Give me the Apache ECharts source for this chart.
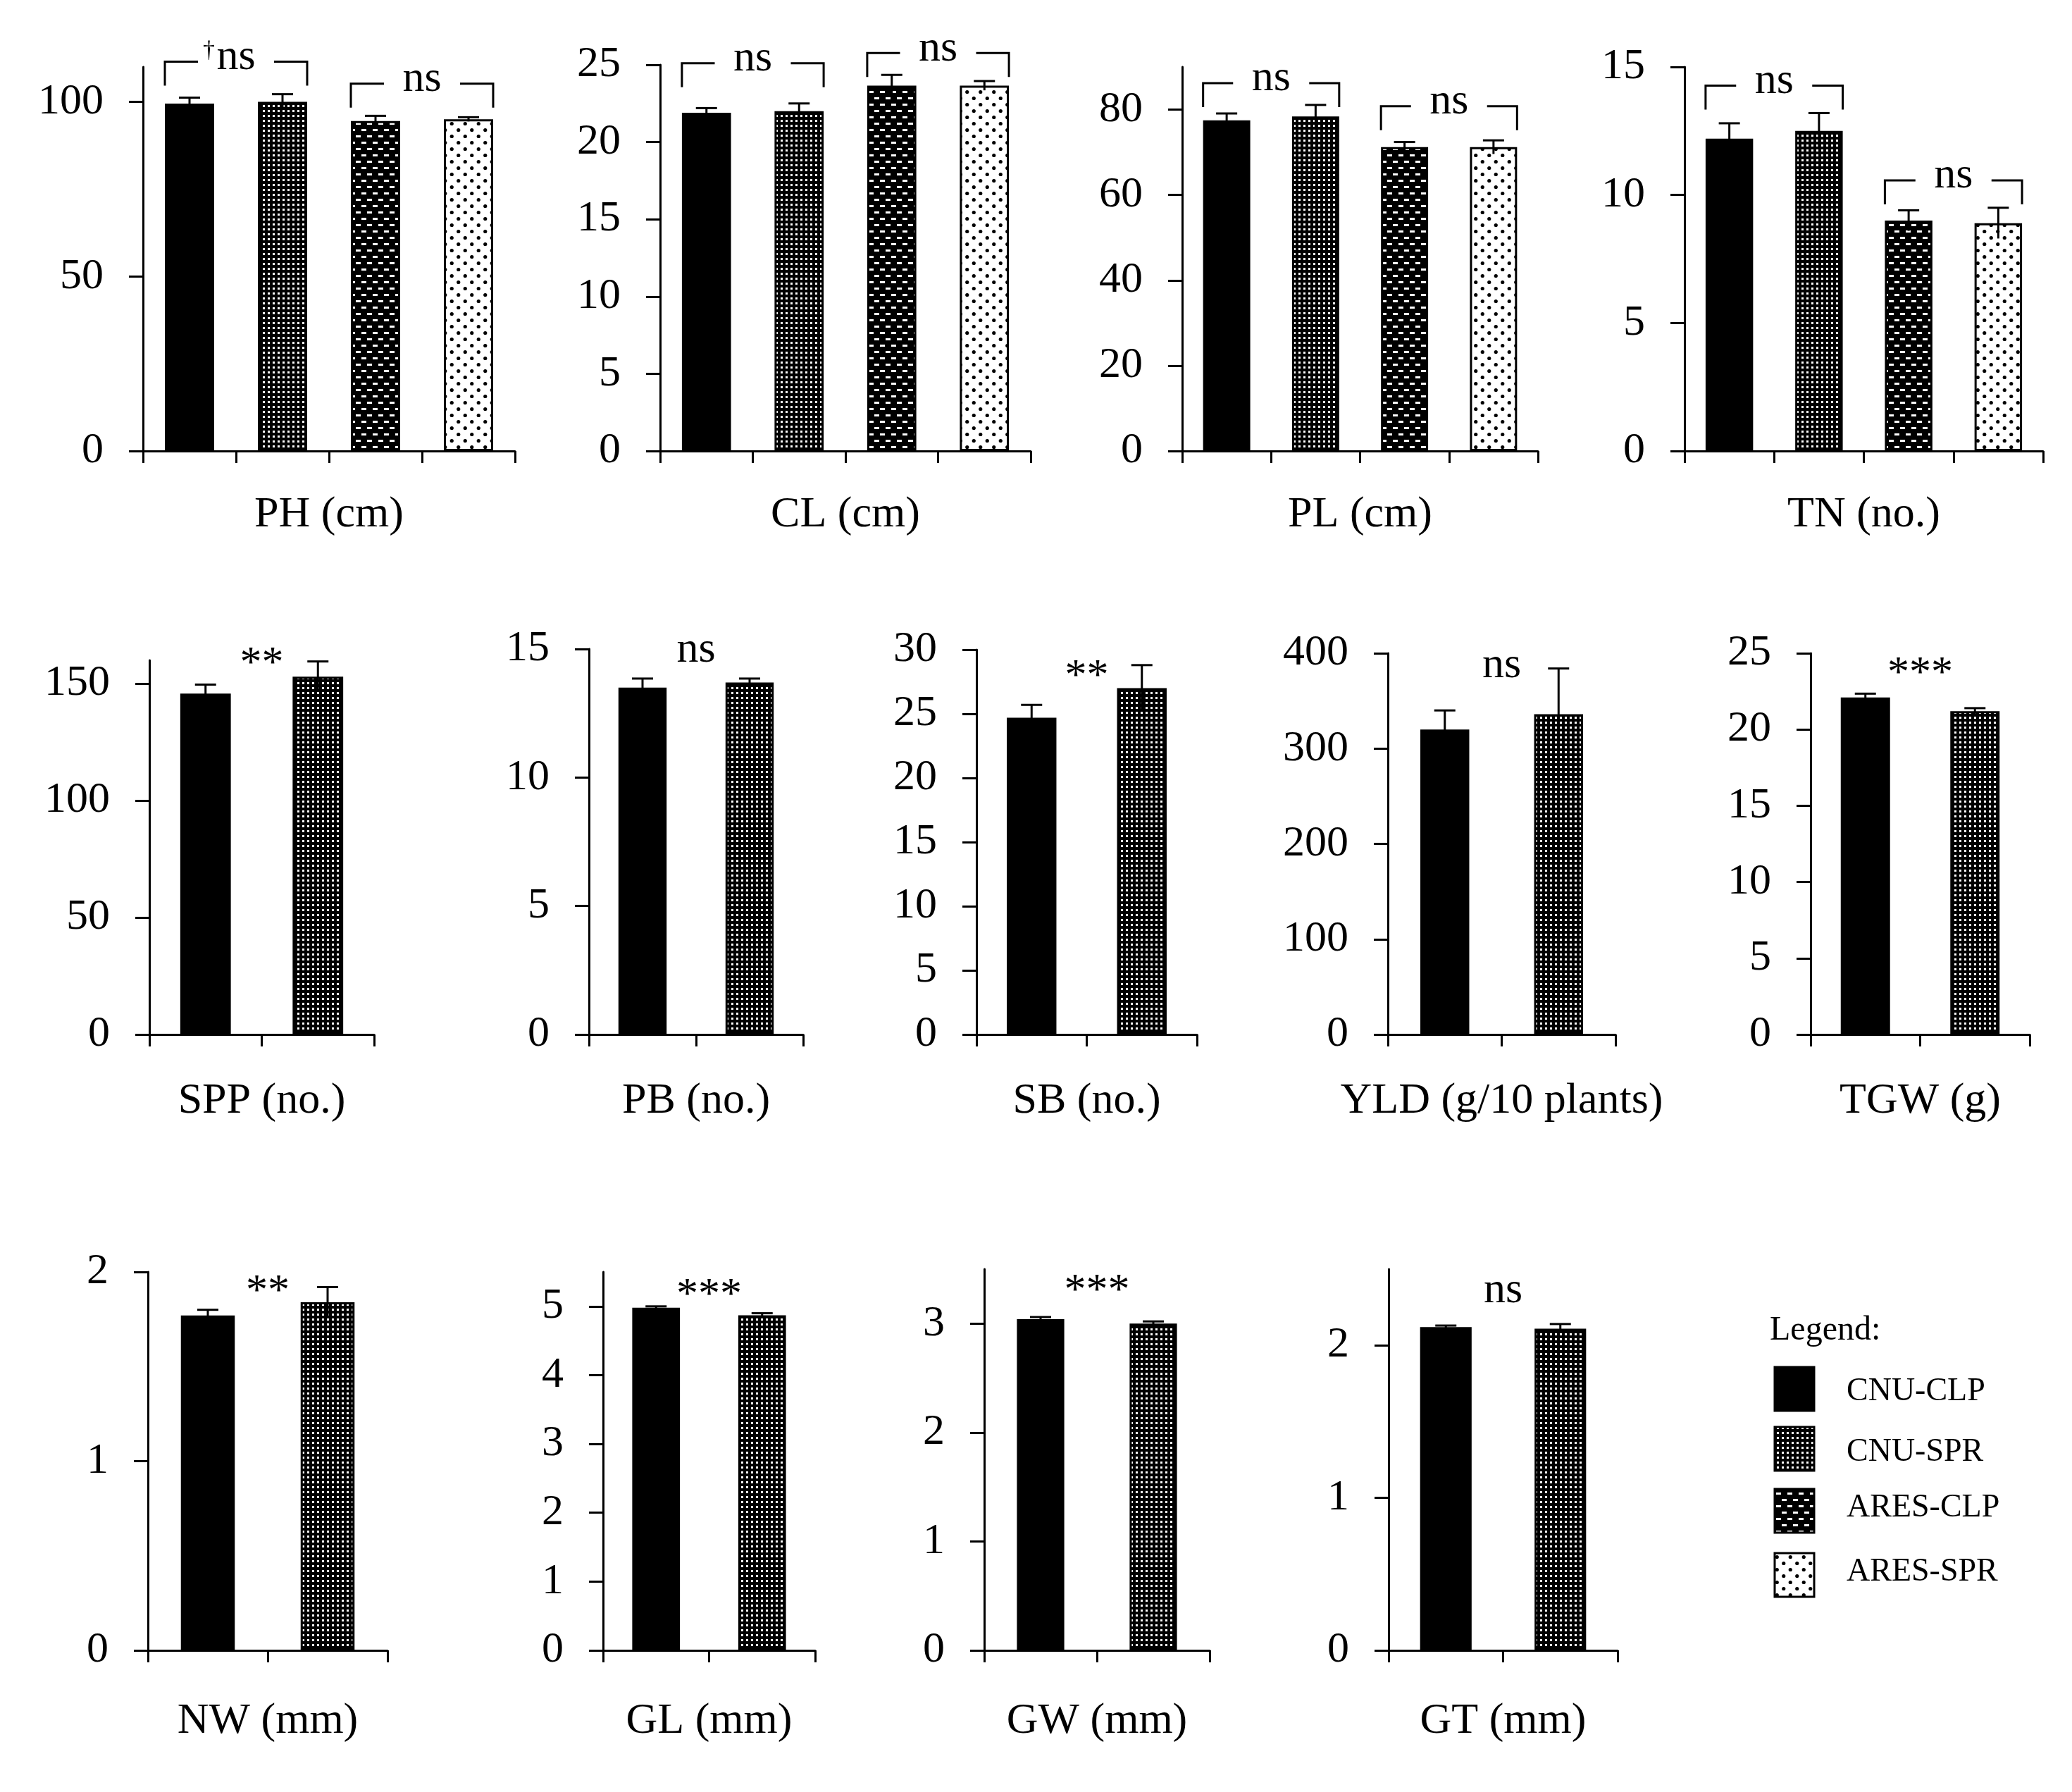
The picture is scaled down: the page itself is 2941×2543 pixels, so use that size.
<!DOCTYPE html>
<html>
<head>
<meta charset="utf-8">
<script src="https://cdn.jsdelivr.net/npm/echarts@6/dist/echarts.min.js"></script>
<style>
html, body { margin: 0; padding: 0; background: #fff; }
#chart { width: 2941px; height: 2543px; }
</style>
</head>
<body>
<div id="chart"></div>
<script>
// groups (legend entries)
var groups = ['CNU-CLP', 'CNU-SPR', 'ARES-CLP', 'ARES-SPR'];

// row 1: four groups
var phMean = [99.5, 100.0, 94.5, 95.0];
var phErr = [1.7, 2.2, 1.5, 0.6];
var clMean = [21.9, 22.0, 23.65, 23.65];
var clErr = [0.3, 0.5, 0.7, 0.3];
var plMean = [77.5, 78.4, 71.2, 71.2];
var plErr = [1.6, 2.7, 1.2, 1.6];
var tnMean = [12.2, 12.5, 9.0, 8.9];
var tnErr = [0.6, 0.7, 0.4, 0.6];

// rows 2 and 3: CNU-CLP vs CNU-SPR
var sppMean = [145.8, 153.0];
var sppErr = [3.8, 6.5];
var pbMean = [13.5, 13.7];
var pbErr = [0.35, 0.15];
var sbMean = [24.7, 27.0];
var sbErr = [1.0, 1.8];
var yldMean = [320, 336];
var yldErr = [20, 48];
var tgwMean = [22.1, 21.2];
var tgwErr = [0.25, 0.2];
var nwMean = [1.77, 1.84];
var nwErr = [0.03, 0.08];
var glMean = [4.98, 4.87];
var glErr = [0.02, 0.03];
var gwMean = [3.04, 3.00];
var gwErr = [0.02, 0.02];
var gtMean = [2.12, 2.11];
var gtErr = [0.01, 0.03];

// tick labels
var phTicks = [0, 50, 100];
var clTicks = [0, 5, 10, 15, 20, 25];
var plTicks = [0, 20, 40, 60, 80];
var tnTicks = [0, 5, 10, 15];
var sppTicks = [0, 50, 100, 150];
var pbTicks = [0, 5, 10, 15];
var sbTicks = [0, 5, 10, 15, 20, 25, 30];
var yldTicks = [0, 100, 200, 300, 400];
var tgwTicks = [0, 5, 10, 15, 20, 25];
var nwTicks = [0, 1, 2];
var glTicks = [0, 1, 2, 3, 4, 5];
var gwTicks = [0, 1, 2, 3];
var gtTicks = [0, 1, 2];

// significance: brackets (row 1) as [first group index, level], and single labels
var phBrackets = [[0, 111.5], [2, 105.2]];
var clBrackets = [[0, 25.1], [2, 25.76]];
var plBrackets = [[0, 86.2], [2, 80.8]];
var tnBrackets = [[0, 14.27], [2, 10.57]];
var phBracketText = ['\u2020ns', 'ns'];
var sigText = ['**', 'ns', '**', 'ns', '***', '**', '***', '***', 'ns'];
var sigLevel = [162, 14.8, 28.55, 382.6, 24.2, 1.937, 5.28, 3.37, 2.33];

var FONT = "'Liberation Serif', 'Times New Roman', serif";
var FS = 62;

function tile(w, h, bg, draw) {
  var c = document.createElement('canvas');
  c.width = w; c.height = h;
  var g = c.getContext('2d');
  g.fillStyle = bg; g.fillRect(0, 0, w, h);
  draw(g);
  return { image: c, repeat: 'repeat' };
}
var fills = [
  '#000',
  tile(7, 7, '#000', function (g) { g.fillStyle = '#fff'; g.fillRect(2, 2, 3, 3); }),
  tile(16, 18, '#000', function (g) { g.fillStyle = '#fff'; g.fillRect(1, 3, 7, 3); g.fillRect(9, 12, 7, 3); }),
  tile(19, 18, '#fff', function (g) {
    g.fillStyle = '#000';
    g.beginPath(); g.arc(4.75, 4.5, 2.6, 0, Math.PI * 2); g.fill();
    g.beginPath(); g.arc(14.25, 13.5, 2.6, 0, Math.PI * 2); g.fill();
  })
];

var panels = [
  { name: 'PH (cm)', mean: phMean, err: phErr, ticks: phTicks, max: 110, left: 203, top: 95, width: 528, bottom: 640, bw: 0.53, gap: 60, brackets: phBrackets, btext: phBracketText },
  { name: 'CL (cm)', mean: clMean, err: clErr, ticks: clTicks, max: 25, left: 937, top: 92, width: 526, bottom: 640, bw: 0.53, gap: 60, brackets: clBrackets },
  { name: 'PL (cm)', mean: plMean, err: plErr, ticks: plTicks, max: 90, left: 1678, top: 95, width: 505, bottom: 640, bw: 0.53, gap: 60, brackets: plBrackets },
  { name: 'TN (no.)', mean: tnMean, err: tnErr, ticks: tnTicks, max: 15, left: 2391, top: 95, width: 509, bottom: 640, bw: 0.53, gap: 60, brackets: tnBrackets },
  { name: 'SPP (no.)', mean: sppMean, err: sppErr, ticks: sppTicks, max: 160, left: 212, top: 937, width: 319, bottom: 1468, bw: 0.45, gap: 64, sig: 0 },
  { name: 'PB (no.)', mean: pbMean, err: pbErr, ticks: pbTicks, max: 15, left: 836, top: 921, width: 304, bottom: 1468, bw: 0.45, gap: 64, sig: 1 },
  { name: 'SB (no.)', mean: sbMean, err: sbErr, ticks: sbTicks, max: 30, left: 1386, top: 922, width: 313, bottom: 1468, bw: 0.45, gap: 64, sig: 2 },
  { name: 'YLD (g/10 plants)', mean: yldMean, err: yldErr, ticks: yldTicks, max: 400, left: 1970, top: 927, width: 323, bottom: 1468, bw: 0.43, gap: 64, sig: 3 },
  { name: 'TGW (g)', mean: tgwMean, err: tgwErr, ticks: tgwTicks, max: 25, left: 2570, top: 927, width: 311, bottom: 1468, bw: 0.45, gap: 64, sig: 4 },
  { name: 'NW (mm)', mean: nwMean, err: nwErr, ticks: nwTicks, max: 2, left: 210, top: 1805, width: 340, bottom: 2342, bw: 0.45, gap: 70, sig: 5 },
  { name: 'GL (mm)', mean: glMean, err: glErr, ticks: glTicks, max: 5.5, left: 856, top: 1805, width: 301, bottom: 2342, bw: 0.45, gap: 70, sig: 6 },
  { name: 'GW (mm)', mean: gwMean, err: gwErr, ticks: gwTicks, max: 3.5, left: 1397, top: 1801, width: 320, bottom: 2342, bw: 0.42, gap: 70, sig: 7 },
  { name: 'GT (mm)', mean: gtMean, err: gtErr, ticks: gtTicks, max: 2.5, left: 1971, top: 1801, width: 325, bottom: 2342, bw: 0.45, gap: 70, sig: 8 }
];

var grids = [], xAxes = [], yAxes = [], series = [];
var line = { color: '#000', width: 3 };

panels.forEach(function (p, i) {
  grids.push({ left: p.left, top: p.top, width: p.width, height: p.bottom - p.top });
  xAxes.push({
    type: 'category', gridIndex: i, data: groups.slice(0, p.mean.length),
    name: p.name, nameLocation: 'middle', nameGap: p.gap,
    nameTextStyle: { fontFamily: FONT, fontSize: FS, color: '#000' },
    axisLine: { show: true, lineStyle: line },
    axisTick: { show: true, length: 17, lineStyle: line },
    axisLabel: { show: false }
  });
  yAxes.push({
    type: 'value', gridIndex: i, min: 0, max: p.max,
    interval: p.ticks[1] - p.ticks[0],
    splitLine: { show: false },
    axisLine: { show: true, lineStyle: line },
    axisTick: { show: true, length: 20, lineStyle: line, customValues: p.ticks },
    axisLabel: { customValues: p.ticks, margin: 56, fontFamily: FONT, fontSize: FS, color: '#000' }
  });

  series.push({
    type: 'bar', xAxisIndex: i, yAxisIndex: i, barWidth: (p.bw * 100) + '%',
    itemStyle: { borderColor: '#000', borderWidth: 3 },
    data: p.mean.map(function (v, k) { return { value: v, itemStyle: { color: fills[k] } }; }),
    silent: true
  });

  series.push({
    type: 'custom', xAxisIndex: i, yAxisIndex: i, z: 5, silent: true,
    data: p.mean.map(function (v, k) { return [k, v, p.err[k]]; }),
    renderItem: function (params, api) {
      var k = api.value(0), v = api.value(1), e = api.value(2);
      var t = api.coord([k, v + e]), b = api.coord([k, v - e]);
      var st = { stroke: '#000', lineWidth: 3 };
      return {
        type: 'group', children: [
          { type: 'line', shape: { x1: t[0], y1: t[1], x2: b[0], y2: b[1] }, style: st },
          { type: 'line', shape: { x1: t[0] - 15, y1: t[1], x2: t[0] + 15, y2: t[1] }, style: st }
        ]
      };
    }
  });

  if (p.brackets) {
    var btext = p.btext || ['ns', 'ns'];
    series.push({
      type: 'custom', xAxisIndex: i, yAxisIndex: i, z: 6, silent: true,
      data: p.brackets.map(function (b, j) { return [b[0], b[1], j]; }),
      renderItem: function (params, api) {
        var k = api.value(0), lvl = api.value(1), txt = btext[api.value(2)];
        var a = api.coord([k, lvl]), c = api.coord([k + 1, lvl]);
        var half = api.size([1, 0])[0] * p.bw / 2;
        var xl = a[0] - half, xr = c[0] + half, y = a[1], xm = (xl + xr) / 2;
        var st = { stroke: '#000', lineWidth: 3, fill: null };
        var kids = [
          { type: 'polyline', shape: { points: [[xl, y + 34], [xl, y], [xm - 54, y]] }, style: st },
          { type: 'polyline', shape: { points: [[xm + 54, y], [xr, y], [xr, y + 34]] }, style: st }
        ];
        var main = txt, dag = '';
        if (txt.charAt(0) === '\u2020') { dag = '\u2020'; main = txt.slice(1); }
        kids.push({ type: 'text', x: xm, y: y - 6, style: { text: main, fill: '#000', fontFamily: FONT, fontSize: FS, align: 'center', verticalAlign: 'middle' } });
        if (dag) {
          kids.push({ type: 'text', x: xm - 30, y: y - 15, style: { text: dag, fill: '#000', fontFamily: FONT, fontSize: 34, align: 'right', verticalAlign: 'middle' } });
        }
        return { type: 'group', children: kids };
      }
    });
  }

  if (p.sig !== undefined) {
    var s = p.sig;
    series.push({
      type: 'custom', xAxisIndex: i, yAxisIndex: i, z: 6, silent: true,
      data: [[0, sigLevel[s]]],
      renderItem: function (params, api) {
        var a = api.coord([0, api.value(1)]), c = api.coord([1, api.value(1)]);
        var txt = sigText[s];
        var shift = txt.indexOf('*') >= 0 ? 12 : -6;
        return {
          type: 'text', x: (a[0] + c[0]) / 2, y: a[1] + shift,
          style: { text: txt, fill: '#000', fontFamily: FONT, fontSize: FS, align: 'center', verticalAlign: 'middle' }
        };
      }
    });
  }
});

// legend drawn as graphic elements
var legendBoxY = [1940, 2025, 2113, 2204];
var legendTextY = [1975, 2061, 2140, 2231];
var graphic = [{
  type: 'text', x: 2512, y: 1888,
  style: { text: 'Legend:', fill: '#000', fontFamily: FONT, fontSize: 48, verticalAlign: 'middle' }
}];
groups.forEach(function (g, k) {
  graphic.push({
    type: 'rect', shape: { x: 2519, y: legendBoxY[k], width: 56, height: 62 },
    style: { fill: fills[k], stroke: '#000', lineWidth: 3 }
  });
  graphic.push({
    type: 'text', x: 2621, y: legendTextY[k],
    style: { text: g, fill: '#000', fontFamily: FONT, fontSize: 46, verticalAlign: 'middle' }
  });
});

var myChart = echarts.init(document.getElementById('chart'));
myChart.setOption({
  backgroundColor: '#fff',
  animation: false,
  grid: grids,
  xAxis: xAxes,
  yAxis: yAxes,
  series: series,
  graphic: graphic
});
</script>
</body>
</html>
